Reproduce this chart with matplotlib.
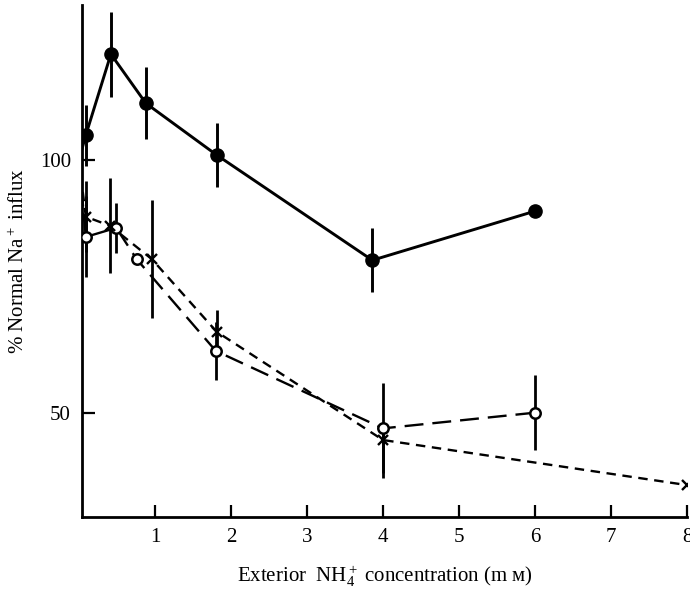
import matplotlib
matplotlib.use("Agg")
import matplotlib.pyplot as plt

plt.rcParams['font.family'] = ['Liberation Serif', 'DejaVu Serif']
plt.rcParams['mathtext.fontset'] = 'custom'
plt.rcParams['mathtext.rm'] = 'Liberation Serif'
plt.rcParams['mathtext.it'] = 'Liberation Serif:italic'

# NH4+ concentration (mM) vs % of normal Na+ influx
# filled circles, solid line
conc_filled = [0, 0.09, 0.42, 0.88, 1.81, 3.86, 6.0]
influx_filled = [100, 104.9, 120.9, 111.2, 101.0, 80.2, 89.9]
err_filled = [0, 6.0, 8.4, 7.1, 6.3, 6.3, 0]

# open circles, long dashes
conc_open = [0, 0.09, 0.49, 0.76, 1.80, 4.0, 6.0]
influx_open = [100, 84.8, 86.6, 80.4, 62.3, 47.0, 50.1]
err_open = [0, 8.0, 5.0, 0, 5.8, 8.9, 7.4]

# crosses, short dashes
conc_cross = [0, 0.09, 0.41, 0.96, 1.81, 4.0, 8.0]
influx_cross = [100, 88.8, 87.0, 80.4, 66.1, 44.7, 35.8]
err_cross_lo = [0, 7.0, 9.4, 11.7, 4.3, 7.5, 0]
err_cross_hi = [0, 7.0, 9.4, 11.7, 4.3, 1.5, 0]

fig = plt.figure(figsize=(6.9, 5.89), dpi=100)
ax = fig.add_axes([82/690, 72/589, 605/690, 512/589])

ax.plot(conc_filled, influx_filled, '-', color='black', lw=2.1, zorder=3)
ax.errorbar(conc_filled[1:], influx_filled[1:], yerr=err_filled[1:], fmt='o',
            color='black', ms=9.5, elinewidth=2.1, capsize=0, zorder=4)

ax.plot(conc_open, influx_open, color='black', lw=1.7, dashes=(8, 3.8), zorder=3)
ax.errorbar(conc_open[1:], influx_open[1:], yerr=err_open[1:], fmt='o',
            mfc='white', mec='black', mew=1.8, color='black', ms=7.5,
            elinewidth=2.0, capsize=0, zorder=4)

ax.plot(conc_cross, influx_cross, color='black', lw=1.7, dashes=(4, 2.8), zorder=3)
ax.errorbar(conc_cross[1:], influx_cross[1:],
            yerr=[err_cross_lo[1:], err_cross_hi[1:]], fmt='x',
            color='black', ms=7, mew=1.7, elinewidth=2.0, capsize=0, zorder=4)

ax.set_xlim(0.04, 8)
ax.set_ylim(29.5, 130.6)
ax.set_xticks([1, 2, 3, 4, 5, 6, 7, 8])
ax.set_yticks([50, 100])
ax.tick_params(direction='in', length=9, width=1.6, labelsize=15, pad=8)

for side in ['top', 'right']:
    ax.spines[side].set_visible(False)
for side in ['left', 'bottom']:
    ax.spines[side].set_linewidth(2.0)

ax.set_xlabel('Exterior  NH$_4^+$ concentration (m \u1d0d)', fontsize=15, labelpad=12)
ax.set_ylabel('% Normal Na$^+$ influx', fontsize=15, labelpad=8)

fig.savefig('out.png', dpi=100)
